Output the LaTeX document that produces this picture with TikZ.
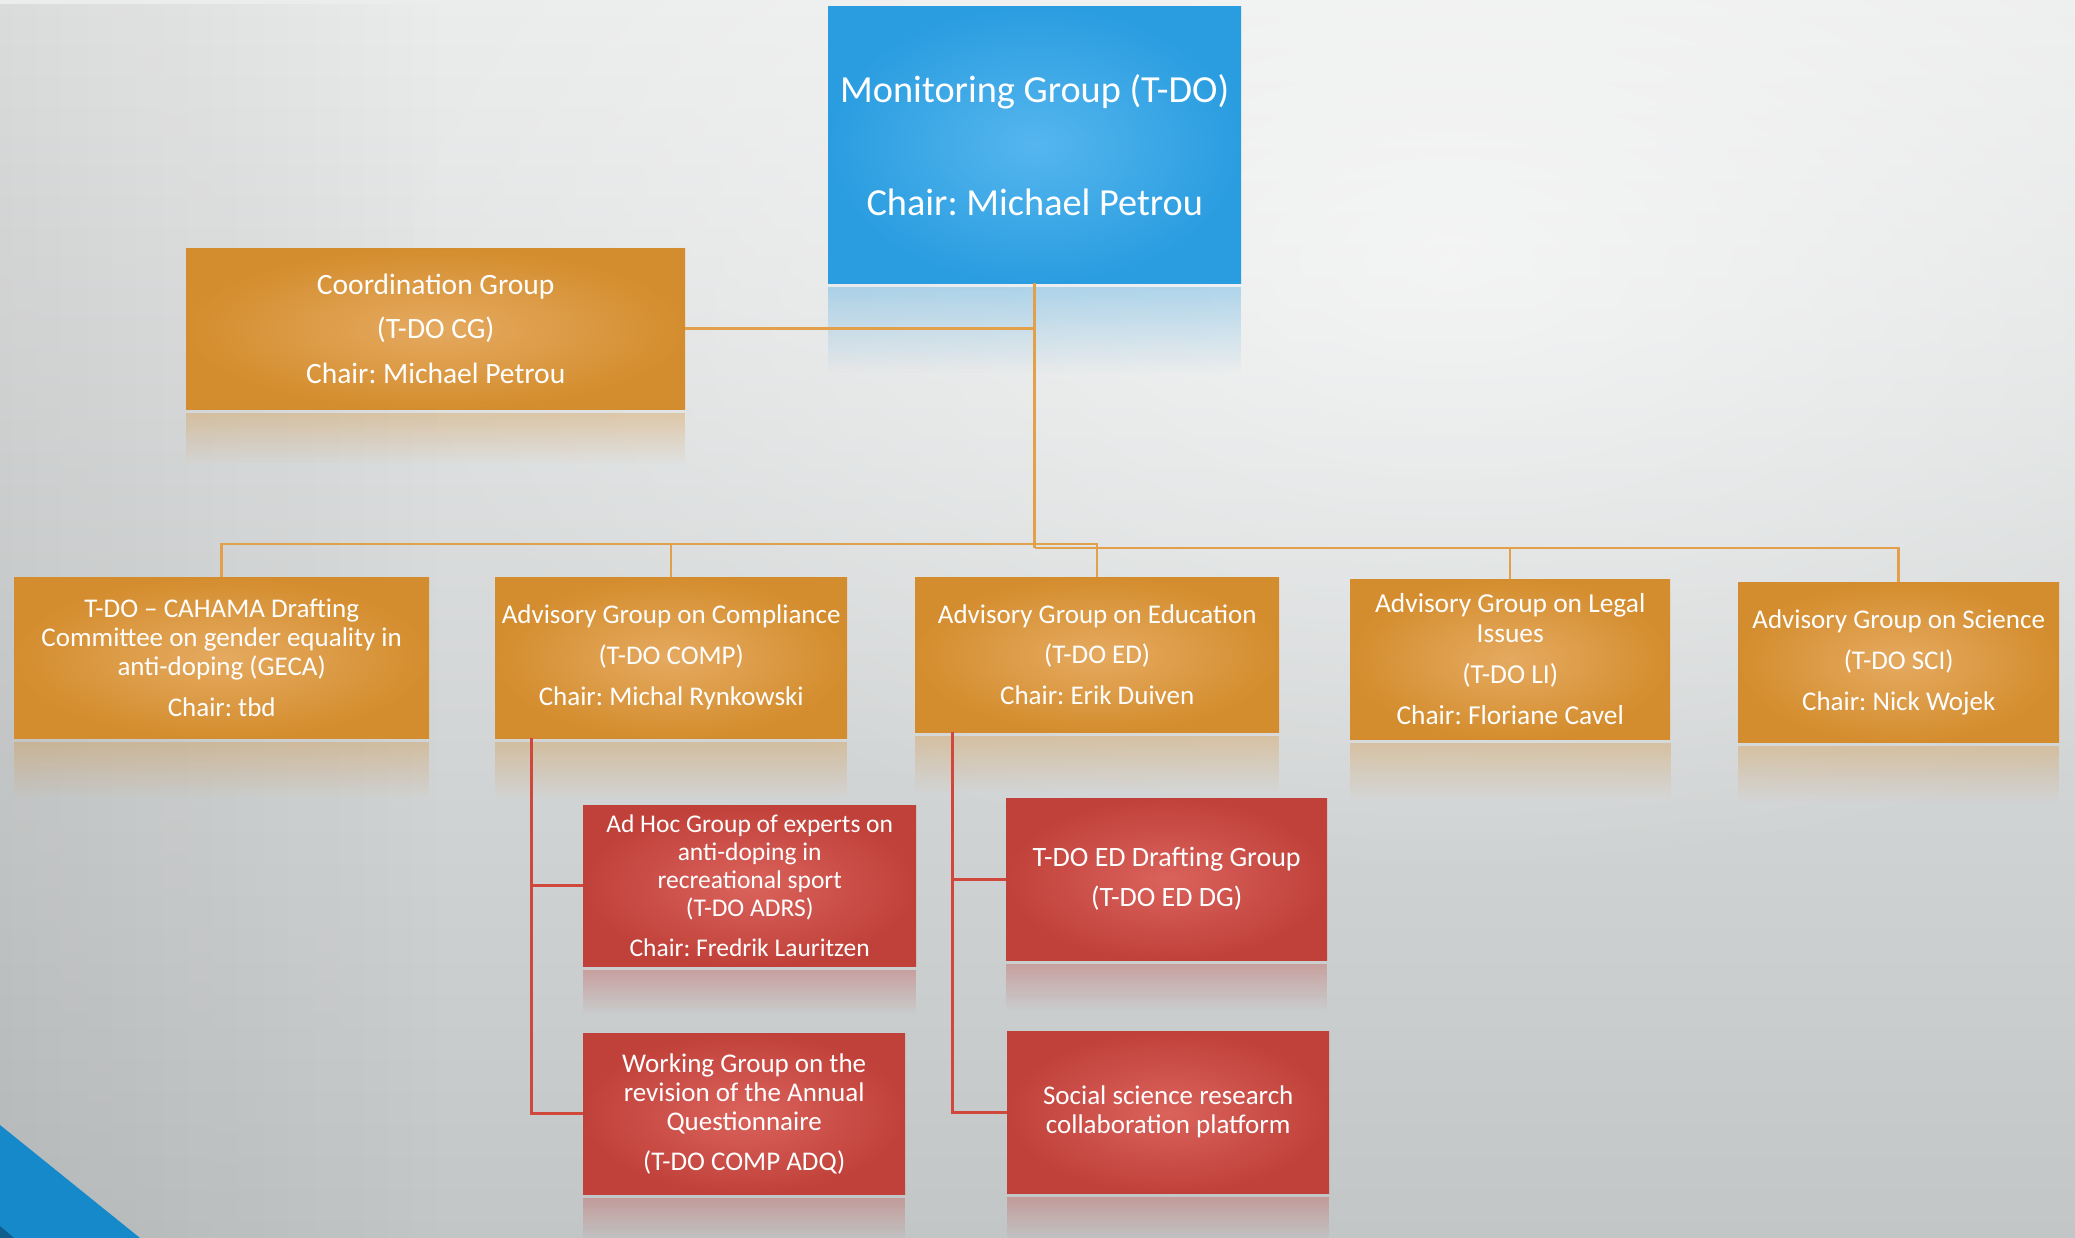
\documentclass[tikz,border=0pt]{standalone}
\usepackage{fontspec}
\setmainfont{Carlito}
\usetikzlibrary{fadings}
\tikzfading[name=myglow, inner color=transparent!0, outer color=transparent!100]
\definecolor{orEdge}{HTML}{D48D2E}
\definecolor{orMid}{HTML}{E5AA60}
\definecolor{blEdge}{HTML}{2A9DE0}
\definecolor{blMid}{HTML}{55B6EE}
\definecolor{rdEdge}{HTML}{C0413A}
\definecolor{rdMid}{HTML}{DA635C}
\definecolor{olineC}{HTML}{E3A04A}
\definecolor{rlineC}{HTML}{D0473B}
\definecolor{bgTop}{HTML}{EBECEC}
\definecolor{bgBot}{HTML}{C2C6C7}
\definecolor{cornerC}{HTML}{1589C9}
\definecolor{cornerDark}{HTML}{0E5E8C}
\newcommand\reflbox[3]{\fill[#3, opacity=0.32, path fading=south] ([yshift=-4pt]#1.south west) rectangle ([yshift=-#2]#1.south east);}
\newcommand\fsz[2]{\fontsize{#1}{#2}\selectfont}
\begin{document}
\frenchspacing
\begin{tikzpicture}[x=1pt,y=-1pt,
  box/.style={rectangle, inner sep=0pt, align=center, text=white, anchor=north west},
  obox/.style={box, inner color=orMid, outer color=orEdge, font=\fsz{27}{29}},
  bbox/.style={box, inner color=blMid, outer color=blEdge, font=\fsz{38.3}{43}},
  rbox/.style={box, inner color=rdMid, outer color=rdEdge, font=\fsz{27}{29}},
  oline/.style={draw=olineC, line width=2.5pt},
  rline/.style={draw=rlineC, line width=3pt}]
\useasboundingbox (0,0) rectangle (2075,1238);
% background
\begin{scope}
\clip (0,0) rectangle (2075,1238);
\shade[top color=bgTop, bottom color=bgBot] (0,0) rectangle (2075,1238);
\fill[white, opacity=0.6, path fading=myglow] (1450,260) ellipse (1100 and 620);
\fill[black, opacity=0.07, path fading=east] (0,0) rectangle (450,1238);
\fill[cornerC] (0,1125) -- (140,1238) -- (0,1238) -- cycle;
\fill[cornerDark] (0,1226) -- (14,1238) -- (0,1238) -- cycle;
\end{scope}
% boxes
\node[bbox, minimum width=413pt, minimum height=277pt] (mon) at (828,6) {Monitoring Group (T-DO)\\[70pt]Chair: Michael Petrou};
\node[obox, font=\fsz{29.5}{30}, minimum width=499pt, minimum height=161pt] (coord) at (186,248) {Coordination Group\\[14.5pt](T-DO CG)\\[14.5pt]Chair: Michael Petrou};
\node[obox, minimum width=415pt, minimum height=161pt] (geca) at (14,577) {T-DO \textendash{} CAHAMA Drafting\\Committee on gender equality in\\anti-doping (GECA)\\[12pt]Chair: tbd};
\node[obox, minimum width=352pt, minimum height=161pt] (comp) at (495,577) {Advisory Group on Compliance\\[12pt](T-DO COMP)\\[12pt]Chair: Michal Rynkowski};
\node[obox, minimum width=364pt, minimum height=155pt] (ed) at (915,577) {Advisory Group on Education\\[11.5pt](T-DO ED)\\[11.5pt]Chair: Erik Duiven};
\node[obox, font=\fsz{27.4}{29.5}, minimum width=320pt, minimum height=160pt] (li) at (1350,579) {Advisory Group on Legal\\Issues\\[11.5pt](T-DO LI)\\[11.5pt]Chair: Floriane Cavel};
\node[obox, minimum width=321pt, minimum height=160pt] (sci) at (1738,582) {Advisory Group on Science\\[12pt](T-DO SCI)\\[12pt]Chair: Nick Wojek};
\node[rbox, font=\fsz{25.5}{28}, minimum width=333pt, minimum height=161pt] (adrs) at (583,805) {Ad Hoc Group of experts on\\anti-doping in\\recreational sport\\(T-DO ADRS)\\[12.5pt]Chair: Fredrik Lauritzen};
\node[rbox, minimum width=322pt, minimum height=161pt] (adq) at (583,1033) {Working Group on the\\revision of the Annual\\Questionnaire\\[11pt](T-DO COMP ADQ)};
\node[rbox, font=\fsz{28}{29}, minimum width=321pt, minimum height=162pt] (eddg) at (1006,798) {T-DO ED Drafting Group\\[11pt](T-DO ED DG)};
\node[rbox, minimum width=322pt, minimum height=162pt] (ssr) at (1007,1031) {Social science research\\collaboration platform};
% reflections
\reflbox{mon}{90pt}{blEdge}
\reflbox{coord}{55pt}{orEdge}
\reflbox{geca}{60pt}{orEdge}
\reflbox{comp}{60pt}{orEdge}
\reflbox{ed}{60pt}{orEdge}
\reflbox{li}{60pt}{orEdge}
\reflbox{sci}{60pt}{orEdge}
\reflbox{adrs}{48pt}{rdEdge}
\reflbox{adq}{48pt}{rdEdge}
\reflbox{eddg}{50pt}{rdEdge}
\reflbox{ssr}{48pt}{rdEdge}
% connectors
\coordinate (trunk) at (mon.south |- 0,548);
\draw[oline] (mon.south) -- (trunk);
\draw[oline] (coord.east) -- (coord.east -| mon.south);
\draw[oline] (geca.north) -- ++(0,-33) -| (ed.north);
\draw[oline] (comp.north) -- ++(0,-33);
\draw[oline] (trunk) -| (li.north);
\draw[oline] (trunk) -| (sci.north);
\draw[rline] ([xshift=36pt]comp.south west) |- (adrs.west);
\draw[rline] ([xshift=36pt]comp.south west) |- (adq.west);
\draw[rline] ([xshift=37pt]ed.south west) |- (eddg.west);
\draw[rline] ([xshift=37pt]ed.south west) |- (ssr.west);
\end{tikzpicture}
\end{document}
